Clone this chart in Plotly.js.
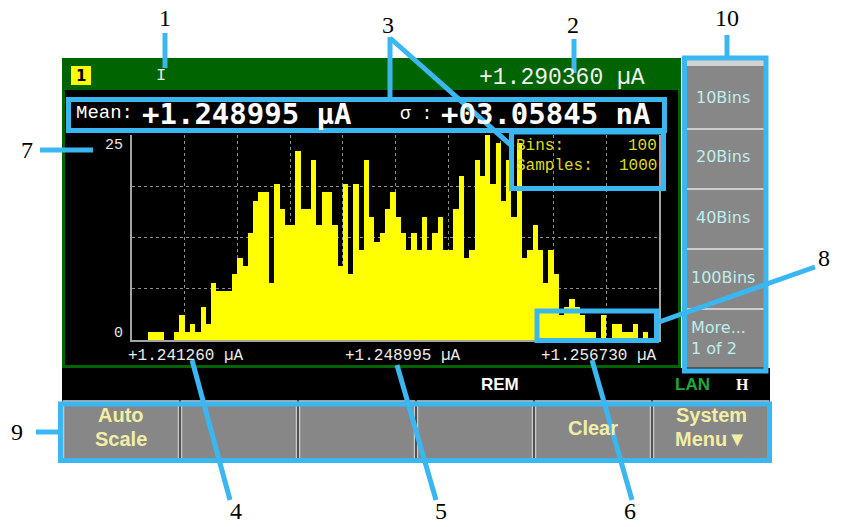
<!DOCTYPE html>
<html>
<head>
<meta charset="utf-8">
<script src="https://cdn.plot.ly/plotly-3.0.1.min.js"></script>
<style>html,body{margin:0;padding:0;background:#fff;}#chart{width:842px;height:527px;}</style>
</head>
<body>
<div id="chart"></div>
<script>
// ---------------- data ----------------
const binCounts = [
  0, 0, 0, 1, 1, 1, 0, 0, 1, 3,
  1, 2, 1, 4, 2, 7, 6, 6, 6, 8,
  10, 9, 13, 17, 18, 18, 7, 19, 16, 14,
  14, 23, 16, 16, 22, 14, 18, 18, 14, 9,
  19, 8, 19, 11, 22, 15, 12, 13, 16, 18,
  15, 13, 11, 13, 11, 15, 11, 13, 15, 11,
  11, 16, 20, 10, 11, 22, 20, 25, 19, 24,
  17, 22, 15, 24, 10, 11, 14, 11, 7, 11,
  8, 3, 4, 5, 4, 3, 1, 1, 0, 3,
  0, 2, 2, 1, 1, 2, 0, 1, 0, 0
];
const xTickLabels = ['+1.241260 \u00b5A', '+1.248995 \u00b5A', '+1.256730 \u00b5A'];
const yTickLabels = ['25', '0'];
const channelLabel = '1';
const functionLabel = 'I';
const readingLabel = '+1.290360 \u00b5A';
const meanLabel = 'Mean:';
const meanValue = '+1.248995 \u00b5A';
const sigmaLabel = '\u03c3 :';
const sigmaValue = '+03.05845 nA';
const infoLabels = ['Bins:', 'Samples:'];
const infoValues = ['100', '1000'];
const softkeyLabels = ['10Bins', '20Bins', '40Bins', '100Bins'];
const moreLabels = ['More...', '1 of 2'];
const buttonLabels = [['Auto', 'Scale'], [], [], [], ['Clear'], ['System', 'Menu\u25bc']];
const statusLabels = ['REM', 'LAN', 'H'];
const calloutLabels = ['1', '2', '3', '4', '5', '6', '7', '8', '9', '10'];

// ---------------- helpers (pixel -> paper) ----------------
const W = 842, H = 527;
const px = x => x / W;
const py = y => 1 - y / H;
const BLUE = 'rgb(58,182,240)';
const shapes = [];
const ann = [];
function rect(x0, y0, x1, y1, fill, layer, line) {
  shapes.push({type: 'rect', xref: 'paper', yref: 'paper',
    x0: px(x0), x1: px(x1), y0: py(y1), y1: py(y0),
    fillcolor: fill, layer: layer || 'below',
    line: line || {width: 0}});
}
function box(x0, y0, x1, y1, w) {
  rect(x0, y0, x1, y1, 'rgba(0,0,0,0)', 'above', {color: BLUE, width: w || 5});
}
function seg(x0, y0, x1, y1, color, w, layer) {
  shapes.push({type: 'line', xref: 'paper', yref: 'paper',
    x0: px(x0), x1: px(x1), y0: py(y0), y1: py(y1),
    layer: layer || 'above', line: {color: color, width: w}});
}
function txt(x, y, s, font, xa) {
  ann.push({xref: 'paper', yref: 'paper', x: px(x), y: py(y), text: s,
    showarrow: false, xanchor: xa || 'center', yanchor: 'middle',
    borderpad: 0, font: font});
}
const F = (family, size, color, weight) => ({family: family, size: size, color: color, weight: weight || 'normal'});
const MONO = 'Liberation Mono, DejaVu Sans Mono, monospace';
const MONOB = 'DejaVu Sans Mono, Liberation Mono, monospace';
const SANS = 'Liberation Sans, Arial, sans-serif';
const DSANS = 'DejaVu Sans, sans-serif';
const SERIF = 'Liberation Serif, Times New Roman, serif';

// ---------------- instrument body ----------------
rect(62, 58, 681, 368, '#006400');          // green frame / title bar
rect(65, 90, 678, 365, '#000000');          // black screen
rect(71, 66, 91, 85, '#ffff00');            // channel badge
rect(62, 368, 770, 400, '#000000');         // status bar
rect(62, 400, 770, 461, '#2a2a2a');         // button row background
for (let i = 0; i < buttonLabels.length; i++) {
  const x0 = 62 + i * 118;
  rect(x0 + 1.5, 401, x0 + 116.5, 459, '#878787', 'below', {color: '#c9c9c9', width: 1.5});
  const lines = buttonLabels[i];
  if (lines.length === 1) {
    txt(x0 + 59, 428, lines[0], F(SANS, 20, '#f2eea6', 'bold'));
  } else if (lines.length === 2) {
    txt(x0 + 59, 415, lines[0], F(SANS, 20, '#f2eea6', 'bold'));
    txt(x0 + 59, 439, lines[1], F(SANS, 20, '#f2eea6', 'bold'));
  }
}
// right softkey column
rect(684, 58, 767, 368, '#878787');
rect(684, 60, 767, 66, '#d2d2d2');
[129, 189, 249, 309].forEach(y => seg(686, y, 765, y, '#cdcdcd', 2, 'below'));
seg(686, 368.5, 765, 368.5, '#202020', 2, 'below');
softkeyLabels.forEach((s, i) => txt(723, 97 + i * 60, s, F(DSANS, 16, '#bdeeee')));
txt(690, 327, moreLabels[0], F(DSANS, 16, '#bdeeee'), 'left');
txt(690, 348, moreLabels[1], F(DSANS, 16, '#bdeeee'), 'left');

// ---------------- screen texts ----------------
txt(81, 75.5, channelLabel, F(DSANS, 15, '#000000', 'bold'));
txt(161, 75, functionLabel, F(MONO, 17, '#e8e8e8'));
txt(646, 77.5, readingLabel, F(MONO, 23, '#f0f0f0'), 'right');
txt(75, 113, meanLabel, F(MONO, 19, '#ffffff'), 'left');
txt(141, 114, meanValue, F(MONOB, 29, '#ffffff', 'bold'), 'left');
txt(399, 114, sigmaLabel, F(MONO, 18, '#ffffff'), 'left');
txt(440, 114, sigmaValue, F(MONOB, 29, '#ffffff', 'bold'), 'left');
infoLabels.forEach((s, i) => {
  txt(515, 146 + i * 20, s, F(MONO, 16, '#dcdc1e'), 'left');
  txt(658, 146 + i * 20, infoValues[i], F(MONO, 16, '#dcdc1e'), 'right');
});
txt(124, 145, yTickLabels[0], F(MONO, 15, '#e6e6e6'), 'right');
txt(124, 333, yTickLabels[1], F(MONO, 15, '#e6e6e6'), 'right');
txt(127, 356, xTickLabels[0], F(MONO, 16, '#ececec'), 'left');
txt(403, 356, xTickLabels[1], F(MONO, 16, '#ececec'), 'center');
txt(658, 356, xTickLabels[2], F(MONO, 16, '#ececec'), 'right');
txt(500, 384, statusLabels[0], F(SANS, 17, '#ffffff', 'bold'));
txt(692, 384, statusLabels[1], F(SANS, 17, '#1fa83a', 'bold'));
txt(742, 384, statusLabels[2], F(SERIF, 16, '#ffffff', 'bold'));

// ---------------- blue callouts ----------------
box(68.5, 99.5, 664.5, 130.5);     // 3 : mean / sigma
box(511.5, 132, 663.5, 188.5);     // 3 : bins / samples
box(537, 311, 656.5, 340.5);       // 8
box(60.5, 404, 769.5, 460.5);      // 9
box(684.5, 58, 766, 371);          // 10
seg(165, 33, 165, 68, BLUE, 5);
seg(574, 39, 574, 73, BLUE, 5);
seg(390, 37, 390, 100, BLUE, 5);
seg(390, 38, 513, 147, BLUE, 5);
seg(727, 35, 727, 58, BLUE, 5);
seg(40, 150, 93, 150, BLUE, 5);
seg(659, 322, 815, 267, BLUE, 5);
seg(36, 432, 58, 432, BLUE, 5);
seg(192, 360, 230, 500, BLUE, 5);
seg(397, 365, 436, 500, BLUE, 5);
seg(592, 360, 632, 500, BLUE, 5);
const calloutPos = [[165, 18], [573, 25], [388, 25], [236, 511], [441, 511], [630, 511],
                    [27, 150], [824, 258], [17, 432], [727, 18]];
calloutLabels.forEach((s, i) => txt(calloutPos[i][0], calloutPos[i][1], s, F(SERIF, 24, '#000000')));

// ---------------- histogram ----------------
const binCenters = binCounts.map((_, i) => i + 0.5);
const trace = {type: 'bar', x: binCenters, y: binCounts, width: 1,
  marker: {color: '#ffff00', line: {width: 0}}, hoverinfo: 'skip'};

const layout = {
  width: W, height: H, margin: {l: 0, r: 0, t: 0, b: 0, pad: 0},
  paper_bgcolor: '#ffffff', plot_bgcolor: 'rgba(0,0,0,0)',
  showlegend: false, bargap: 0,
  xaxis: {domain: [px(132), px(659)], range: [0, 100], tick0: 0, dtick: 10,
    showgrid: true, gridcolor: '#8e8e8e', griddash: 'dot', gridwidth: 1,
    showticklabels: false, ticks: '', zeroline: false,
    showline: true, linecolor: '#a4a4a4', linewidth: 2, fixedrange: true},
  yaxis: {domain: [py(340), py(135)], range: [0, 25], tick0: 0, dtick: 6.25,
    showgrid: true, gridcolor: '#8e8e8e', griddash: 'dot', gridwidth: 1,
    showticklabels: false, ticks: '', zeroline: false,
    showline: true, mirror: true, linecolor: '#a4a4a4', linewidth: 2, fixedrange: true},
  shapes: shapes, annotations: ann
};
Plotly.newPlot('chart', [trace], layout, {staticPlot: true, displayModeBar: false});
</script>
</body>
</html>
